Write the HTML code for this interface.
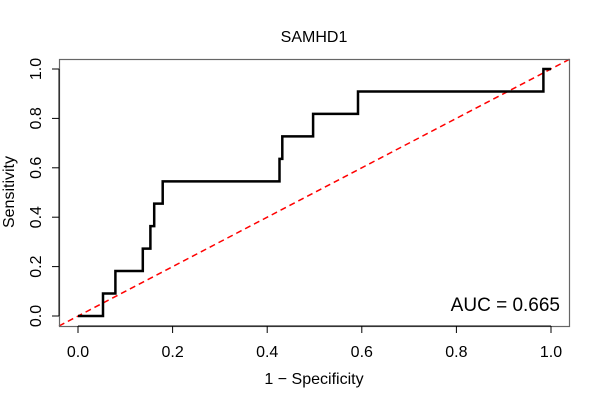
<!DOCTYPE html>
<html><head><meta charset="utf-8"><style>body{margin:0;background:#fff}svg{display:block}</style></head><body>
<svg width="600" height="400" xmlns="http://www.w3.org/2000/svg" font-family="Liberation Sans, Arial, sans-serif">
<rect width="600" height="400" fill="#fff"/>
<text x="314" y="42" font-size="16" text-anchor="middle">SAMHD1</text>
<line x1="59" y1="326" x2="570" y2="59" stroke="#f00" stroke-width="1.5" stroke-dasharray="6,4"/>
<polyline fill="none" stroke="#000" stroke-width="2.5" points="78,316 103,316 103,293.5 115.4,293.5 115.4,271 142.8,271 142.8,248.6 150.4,248.6 150.4,226.1 154.2,226.1 154.2,203.6 162.7,203.6 162.7,181.4 279.5,181.4 279.5,158.9 282.3,158.9 282.3,136.4 313.1,136.4 313.1,113.9 358,113.9 358,91.5 543.4,91.5 543.4,69 551,69"/>
<rect x="59.5" y="59.5" width="510" height="267" fill="none" stroke="#666" stroke-width="1.2"/>
<g stroke="#000" stroke-width="1">
<line x1="78" y1="326" x2="551" y2="326"/>
<line x1="78" y1="326" x2="78" y2="333"/><line x1="172.6" y1="326" x2="172.6" y2="333"/><line x1="267.2" y1="326" x2="267.2" y2="333"/><line x1="361.8" y1="326" x2="361.8" y2="333"/><line x1="456.4" y1="326" x2="456.4" y2="333"/><line x1="551" y1="326" x2="551" y2="333"/>
<line x1="59" y1="316" x2="59" y2="69"/>
<line x1="52" y1="316" x2="59" y2="316"/><line x1="52" y1="266.6" x2="59" y2="266.6"/><line x1="52" y1="217.2" x2="59" y2="217.2"/><line x1="52" y1="167.8" x2="59" y2="167.8"/><line x1="52" y1="118.4" x2="59" y2="118.4"/><line x1="52" y1="69" x2="59" y2="69"/>
</g>
<g font-size="16" text-anchor="middle">
<text x="78" y="357">0.0</text><text x="172.6" y="357">0.2</text><text x="267.2" y="357">0.4</text><text x="361.8" y="357">0.6</text><text x="456.4" y="357">0.8</text><text x="551" y="357">1.0</text>
<text transform="translate(41,316) rotate(-90)">0.0</text>
<text transform="translate(41,266.6) rotate(-90)">0.2</text>
<text transform="translate(41,217.2) rotate(-90)">0.4</text>
<text transform="translate(41,167.8) rotate(-90)">0.6</text>
<text transform="translate(41,118.4) rotate(-90)">0.8</text>
<text transform="translate(41,69) rotate(-90)">1.0</text>
<text x="314" y="384">1 − Specificity</text>
<text transform="translate(14,192) rotate(-90)">Sensitivity</text>
</g>
<text x="560" y="311" font-size="19" text-anchor="end">AUC = 0.665</text>
</svg>
</body></html>
